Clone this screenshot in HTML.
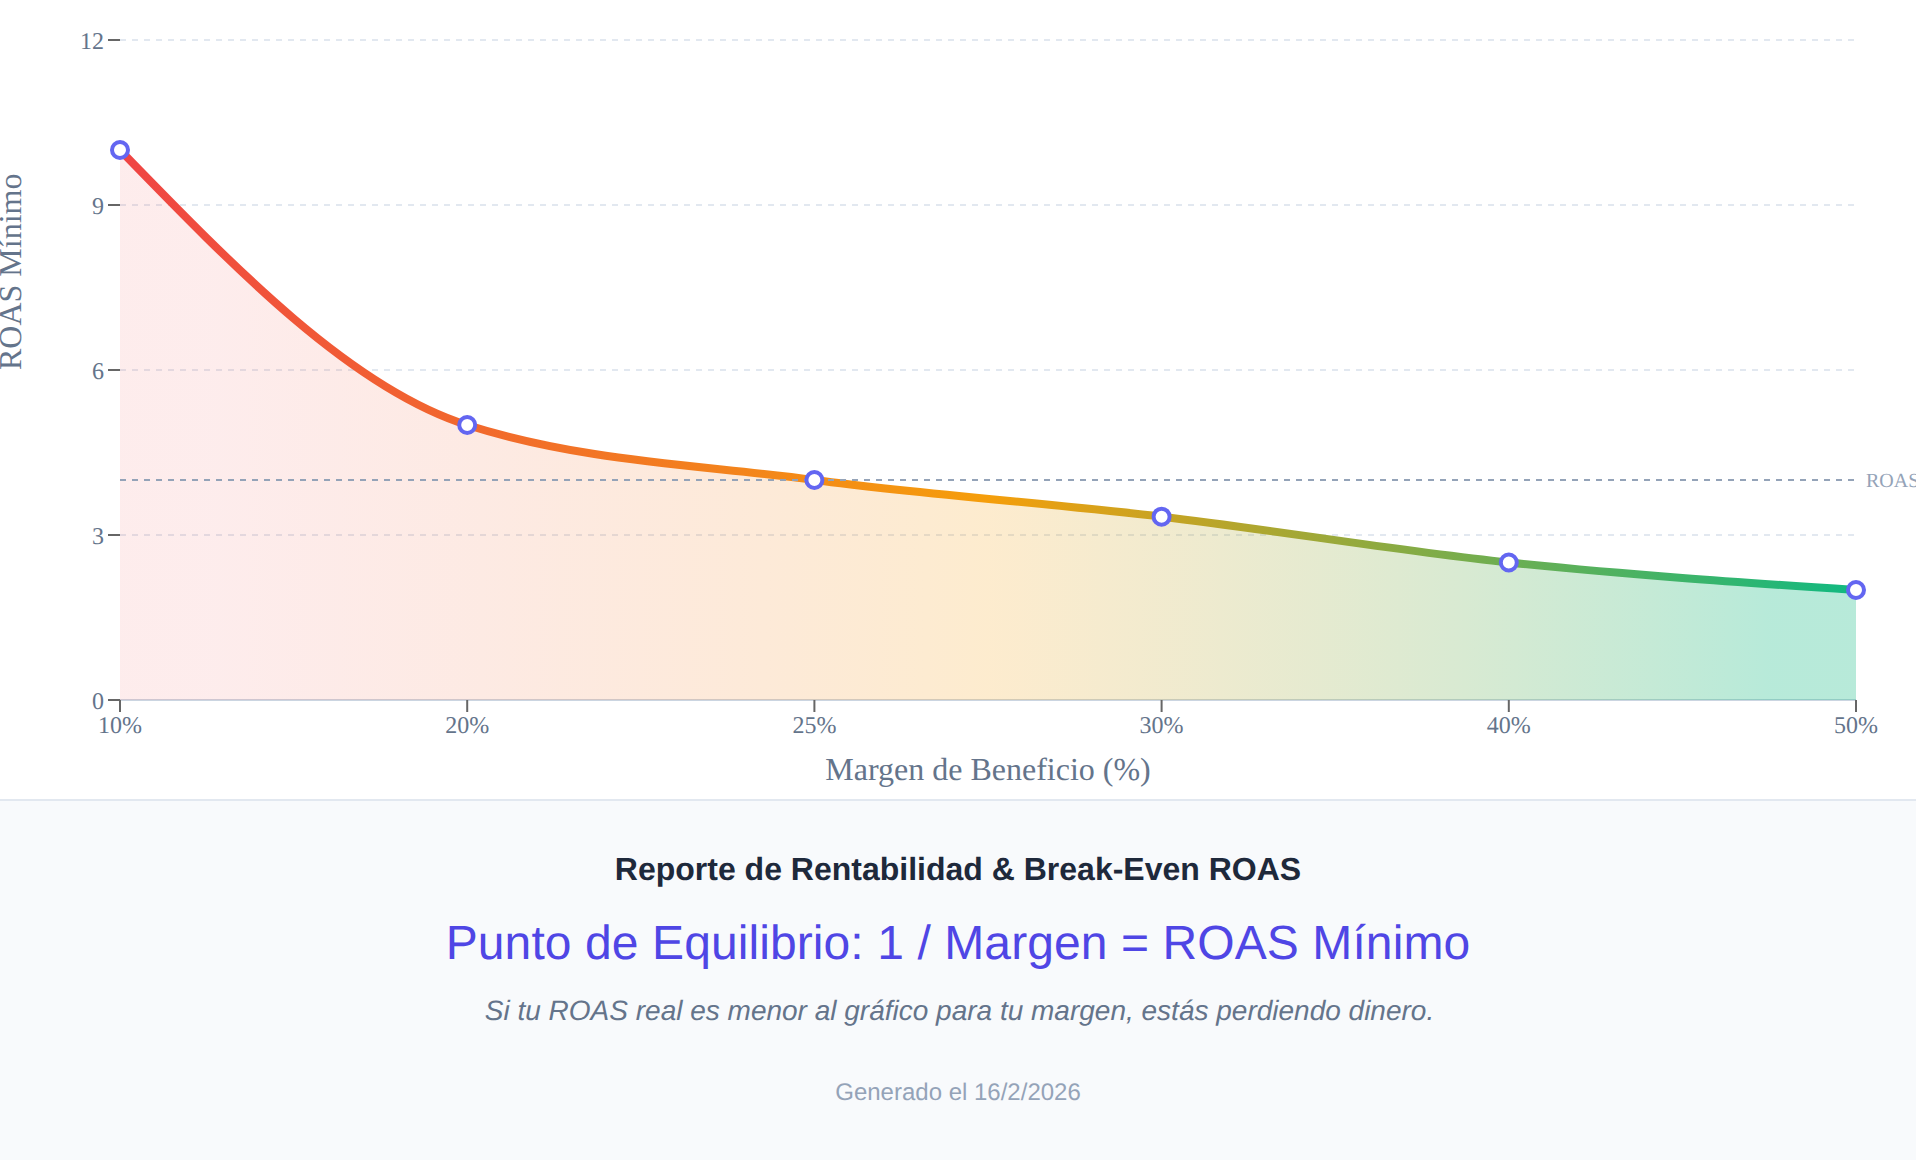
<!DOCTYPE html>
<html lang="es">
<head>
<meta charset="utf-8">
<title>Reporte de Rentabilidad &amp; Break-Even ROAS</title>
<style>
  html,body{margin:0;padding:0;}
  body{width:1916px;height:1160px;overflow:hidden;background:#f8fafc;font-family:"Liberation Sans",Arial,sans-serif;position:relative;}
  #chart{position:absolute;left:0;top:0;width:1916px;height:799px;background:#ffffff;overflow:hidden;}
  #chart svg{display:block;text-rendering:geometricPrecision;font-family:"Liberation Serif","Times New Roman",serif;}
  #footer{position:absolute;left:0;top:799px;width:1916px;height:361px;box-sizing:border-box;border-top:2px solid #e2e8f0;background:#f8fafc;text-align:center;}
  #footer div{text-rendering:geometricPrecision;position:absolute;left:0;width:1916px;text-align:center;white-space:nowrap;line-height:1;}
  .t1{top:52px;font-size:32px;font-weight:700;color:#1e293b;}
  .t2{top:119px;letter-spacing:0.09px;font-size:48px;color:#4f46e5;}
  .t3{top:196px;padding-left:3px;box-sizing:border-box;font-size:28px;font-style:italic;color:#64748b;}
  .t4{top:280px;font-size:24px;color:#94a3b8;}
</style>
</head>
<body>
<div id="chart">
<svg width="1916" height="800" viewBox="0 0 1916 800">
  <defs>
    <linearGradient id="strokeG" gradientUnits="userSpaceOnUse" x1="120" y1="0" x2="1856" y2="0">
      <stop offset="0" stop-color="#ef4444"/>
      <stop offset="0.5" stop-color="#f59e0b"/>
      <stop offset="1" stop-color="#10b981"/>
    </linearGradient>
    <linearGradient id="fillG" gradientUnits="userSpaceOnUse" x1="120" y1="0" x2="1856" y2="0">
      <stop offset="0.05" stop-color="#ef4444" stop-opacity="0.1"/>
      <stop offset="0.5" stop-color="#f59e0b" stop-opacity="0.2"/>
      <stop offset="0.95" stop-color="#10b981" stop-opacity="0.3"/>
    </linearGradient>
  </defs>
  <!-- grid -->
  <g stroke="#e2e8f0" stroke-width="2" stroke-dasharray="6 6" fill="none">
    <line x1="120" y1="700" x2="1856" y2="700"/>
    <line x1="120" y1="535" x2="1856" y2="535"/>
    <line x1="120" y1="370" x2="1856" y2="370"/>
    <line x1="120" y1="205" x2="1856" y2="205"/>
    <line x1="120" y1="40" x2="1856" y2="40"/>
  </g>
  <!-- x axis -->
  <line x1="120" y1="700" x2="1856" y2="700" stroke="#cbd5e1" stroke-width="2"/>
  <g stroke="#666666" stroke-width="2">
    <line x1="120" y1="700" x2="120" y2="712"/>
    <line x1="467.2" y1="700" x2="467.2" y2="712"/>
    <line x1="814.4" y1="700" x2="814.4" y2="712"/>
    <line x1="1161.6" y1="700" x2="1161.6" y2="712"/>
    <line x1="1508.8" y1="700" x2="1508.8" y2="712"/>
    <line x1="1856" y1="700" x2="1856" y2="712"/>
  </g>
  <g font-size="24" fill="#64748b" text-anchor="middle">
    <text x="120" y="733">10%</text>
    <text x="467.2" y="733">20%</text>
    <text x="814.4" y="733">25%</text>
    <text x="1161.6" y="733">30%</text>
    <text x="1508.8" y="733">40%</text>
    <text x="1856" y="733">50%</text>
  </g>
  <text x="988" y="780" font-size="32" fill="#64748b" text-anchor="middle">Margen de Beneficio (%)</text>
  <!-- y axis -->
  <g stroke="#666666" stroke-width="2">
    <line x1="108" y1="700" x2="120" y2="700"/>
    <line x1="108" y1="535" x2="120" y2="535"/>
    <line x1="108" y1="370" x2="120" y2="370"/>
    <line x1="108" y1="205" x2="120" y2="205"/>
    <line x1="108" y1="40" x2="120" y2="40"/>
  </g>
  <g font-size="24" fill="#64748b" text-anchor="end">
    <text x="104" y="708.5">0</text>
    <text x="104" y="543.5">3</text>
    <text x="104" y="378.5">6</text>
    <text x="104" y="213.5">9</text>
    <text x="104" y="48.5">12</text>
  </g>
  <text x="10" y="370" font-size="32" fill="#64748b" text-anchor="start" transform="rotate(-90 10 370)" dy="11.36">ROAS Mínimo</text>
  <!-- area -->
  <path fill="url(#fillG)" stroke="none" d="M120.00,150.00C235.73,269.17,351.47,388.33,467.20,425.00C582.93,461.67,698.67,464.72,814.40,480.00C930.13,495.28,1045.87,502.92,1161.60,516.67C1277.33,530.42,1393.07,550.28,1508.80,562.50C1624.53,574.72,1740.27,582.36,1856.00,590.00L1856,700L120,700Z"/>
  <path fill="none" stroke="url(#strokeG)" stroke-width="8" d="M120.00,150.00C235.73,269.17,351.47,388.33,467.20,425.00C582.93,461.67,698.67,464.72,814.40,480.00C930.13,495.28,1045.87,502.92,1161.60,516.67C1277.33,530.42,1393.07,550.28,1508.80,562.50C1624.53,574.72,1740.27,582.36,1856.00,590.00"/>
  <!-- reference line -->
  <line x1="120" y1="480" x2="1856" y2="480" stroke="#94a3b8" stroke-width="2" stroke-dasharray="6 6"/>
  <text x="1866" y="487" font-size="20" fill="#94a3b8" text-anchor="start">ROAS Objetivo</text>
  <!-- dots -->
  <g fill="#ffffff" stroke="#6366f1" stroke-width="4">
    <circle cx="120" cy="150" r="8"/>
    <circle cx="467.2" cy="425" r="8"/>
    <circle cx="814.4" cy="480" r="8"/>
    <circle cx="1161.6" cy="516.67" r="8"/>
    <circle cx="1508.8" cy="562.5" r="8"/>
    <circle cx="1856" cy="590" r="8"/>
  </g>
</svg>
</div>
<div id="footer">
  <div class="t1">Reporte de Rentabilidad &amp; Break-Even ROAS</div>
  <div class="t2">Punto de Equilibrio: 1 / Margen = ROAS Mínimo</div>
  <div class="t3">Si tu ROAS real es menor al gráfico para tu margen, estás perdiendo dinero.</div>
  <div class="t4">Generado el 16/2/2026</div>
</div>
</body>
</html>
